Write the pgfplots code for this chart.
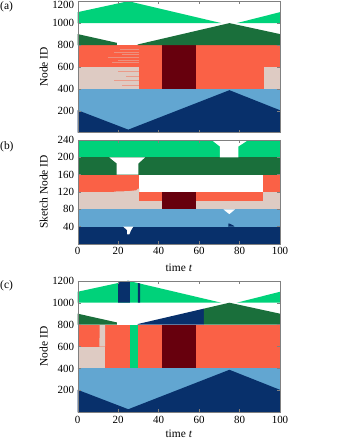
\documentclass[border=0pt]{standalone}
\usepackage{fontspec}
\setmainfont{Liberation Serif}
\usepackage{pgfplots}
\pgfplotsset{compat=1.18}
\definecolor{lgreen}{HTML}{00D27A}
\definecolor{dgreen}{HTML}{1A6F3B}
\definecolor{orng}{HTML}{FA6146}
\definecolor{pnk}{HTML}{DECBC3}
\definecolor{maroon}{HTML}{67000D}
\definecolor{lblue}{HTML}{62A6D1}
\definecolor{navy}{HTML}{08306B}

\pgfplotsset{
  panel/.style={scale only axis, width=202.3bp, anchor=south west,
    xmin=0, xmax=100, ymin=0, axis on top, tick align=inside,
    xtick={0,20,...,100}, major tick length=3bp,
    every tick/.style={black!50}, axis line style={black!50},
    ticklabel style={font=\fontsize{11}{13}\selectfont},
    label style={font=\fontsize{11.5}{13}\selectfont},
    /pgf/number format/assume math mode=true,
    /pgf/number format/1000 sep={},
    ylabel style={at={(axis description cs:-0.168,0.5)}, anchor=center}},
  blk/.style={fill=#1, draw=none},
  streak/.style={#1, line width=0.35bp, opacity=0.45},
}

\begin{document}
\begin{tikzpicture}
\path[use as bounding box] (0,0) rectangle (339bp,439bp);

% (a)
\begin{axis}[panel, at={(77.7bp,306.3bp)}, height=131.5bp, ymax=1200,
  ytick={200,400,...,1000}, extra y ticks={1200},
  extra y tick style={yticklabel style={yshift=-3.8bp}},
  xticklabels={}, ylabel={Node ID}]
  \addplot[blk=lblue] coordinates {(0,0)(100,0)(100,400)(0,400)};
  \addplot[blk=navy] coordinates {(0,0)(0,205)(25,28)(75,388)(100,205)(100,0)};
  \addplot[blk=orng] coordinates {(0,400)(100,400)(100,800)(0,800)};
  \addplot[blk=pnk] coordinates {(0,400)(30.4,400)(30.4,600)(0,600)};
  \addplot[blk=pnk] coordinates {(92.3,400)(100,400)(100,600)(92.3,600)};
  \addplot[blk=maroon] coordinates {(41.5,400)(58.5,400)(58.5,800)(41.5,800)};
  % faint streaks near the pink/orange switch
  \addplot[streak=pnk] coordinates {(17,640)(30.4,640)};
  \addplot[streak=pnk] coordinates {(20,662)(30.4,662)};
  \addplot[streak=pnk] coordinates {(15,690)(30.4,690)};
  \addplot[streak=pnk] coordinates {(22,712)(30.4,712)};
  \addplot[streak=pnk] coordinates {(18,735)(30.4,735)};
  \addplot[streak=pnk] coordinates {(21,760)(30.4,760)};
  \addplot[streak=orng] coordinates {(22,430)(30.4,430)};
  \addplot[streak=orng] coordinates {(18,480)(30.4,480)};
  \addplot[streak=orng] coordinates {(24,520)(30.4,520)};
  \addplot[streak=orng] coordinates {(20,565)(30.4,565)};
  \addplot[blk=dgreen] coordinates {(0,800)(0,900)(19.4,820)(19.4,800)};
  \addplot[blk=dgreen] coordinates {(29.6,800)(29.6,805)(75,1000)(100,900)(100,800)};
  \addplot[blk=lgreen] coordinates {(0,1000)(0,1100)(25,1200)(71,1000)};
  \addplot[blk=lgreen] coordinates {(78.6,1000)(100,1100)(100,1000)};
\end{axis}

% (b)
\begin{axis}[panel, at={(77.7bp,195bp)}, height=104bp, ymax=240,
  ytick={40,80,...,240}, ylabel={Sketch Node ID}, xlabel={time \textit{t}},
  xlabel style={at={(axis description cs:0.5,-0.231)}, anchor=center}]
  \addplot[blk=navy] coordinates {(0,0)(100,0)(100,40)(0,40)};
  \addplot[blk=lblue] coordinates {(0,40)(100,40)(100,80)(0,80)};
  \addplot[blk=navy] coordinates {(74.4,40)(74.6,48)(77,42.5)(77.5,40)};
  \addplot[blk=pnk] coordinates {(0,80)(100,80)(100,120)(0,120)};
  \addplot[blk=orng] coordinates {(30.5,100)(91.8,100)(91.8,120)(30.5,120)};
  \addplot[blk=maroon] coordinates {(41.5,80)(58.4,80)(58.4,120)(41.5,120)};
  \addplot[blk=orng] coordinates {(0,120)(30.5,120)(30.5,160)(0,160)};
  \addplot[blk=orng] coordinates {(91.8,120)(100,120)(100,160)(91.8,160)};
  \addplot[blk=pnk] coordinates {(18,120)(18,121)(25,122)(29,124)(29.8,128)(30.5,128)(30.5,120)};
  \addplot[blk=dgreen] coordinates {(0,160)(100,160)(100,200)(0,200)};
  \addplot[blk=lgreen] coordinates {(0,200)(100,200)(100,240)(0,240)};
  \addplot[blk=white] coordinates {(22.5,40)(27.5,40)(26.4,32)(25.5,22)(24.5,22)(24.4,32)};
  \addplot[blk=white] coordinates {(72,80)(77.8,80)(76,73)(75,69)(73.8,73)};
  \addplot[blk=white] coordinates {(15.6,200)(33.3,200)(30,186)(30,160)(19.3,160)(19.3,186)};
  \addplot[blk=white] coordinates {(66.2,240)(84.3,240)(79.4,225)(79.4,200)(70.3,200)(70.3,225)};
\end{axis}

% (c)
\begin{axis}[panel, at={(77.7bp,26.7bp)}, height=131.5bp, ymax=1200,
  ytick={200,400,...,1200}, ylabel={Node ID}, xlabel={time \textit{t}},
  xlabel style={at={(axis description cs:0.5,-0.16)}, anchor=center}]
  \addplot[blk=lblue] coordinates {(0,0)(100,0)(100,400)(0,400)};
  \addplot[blk=navy] coordinates {(0,0)(0,205)(25,28)(75,388)(100,205)(100,0)};
  \addplot[blk=orng] coordinates {(0,400)(100,400)(100,800)(0,800)};
  \addplot[blk=pnk] coordinates {(0,400)(13.5,400)(13.5,600)(0,600)};
  \addplot[blk=pnk] coordinates {(10.7,600)(13.5,600)(13.5,800)(10.9,800)};
  \addplot[blk=lgreen] coordinates {(25.8,400)(29.8,400)(29.8,800)(25.8,800)};
  \addplot[blk=maroon] coordinates {(41.5,400)(58.5,400)(58.5,800)(41.5,800)};
  \addplot[blk=dgreen] coordinates {(0,800)(0,900)(19.4,820)(19.4,800)};
  \addplot[blk=navy] coordinates {(29.6,800)(29.6,805)(62.4,946)(62.4,800)};
  \addplot[blk=dgreen] coordinates {(62.4,800)(62.4,946)(75,1000)(100,900)(100,800)};
  \addplot[blk=lgreen] coordinates {(0,1000)(0,1100)(25,1200)(71,1000)};
  \addplot[blk=lgreen] coordinates {(78.6,1000)(100,1100)(100,1000)};
  \addplot[blk=navy] coordinates {(20,1000)(20,1185)(25,1200)(25.8,1197)(25.8,1000)};
  \addplot[blk=navy] coordinates {(29.7,1000)(29.7,1180)(30.8,1176)(30.8,1000)};
\end{axis}

\node[anchor=west, inner sep=0, font=\fontsize{11.5}{13}\selectfont] at (0bp,432.3bp) {(a)};
\node[anchor=west, inner sep=0, font=\fontsize{11.5}{13}\selectfont] at (0bp,292.3bp) {(b)};
\node[anchor=west, inner sep=0, font=\fontsize{11.5}{13}\selectfont] at (0bp,153bp) {(c)};
\end{tikzpicture}
\end{document}
